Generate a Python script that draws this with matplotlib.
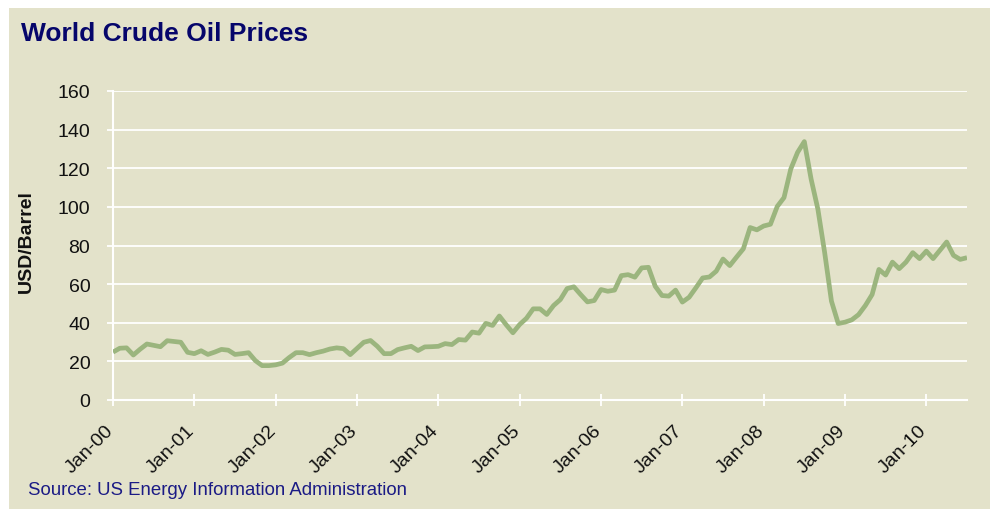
import matplotlib
matplotlib.use("Agg")
import matplotlib.pyplot as plt
from matplotlib.patches import Rectangle
from matplotlib.transforms import ScaledTranslation
import numpy as np

plt.rcParams['font.family'] = ['Liberation Sans', 'DejaVu Sans']

# Monthly world crude oil price (USD/Barrel), Jan-2000 .. Jul-2010
p2000 = [24.8, 26.8, 27.0, 23.3, 26.3, 29.0, 28.3, 27.6, 30.7, 30.3, 29.9, 24.7]
p2001 = [24.0, 25.5, 23.6, 24.8, 26.2, 25.8, 23.6, 24.0, 24.5, 20.4, 17.8, 17.8]
p2002 = [18.2, 19.1, 22.0, 24.5, 24.5, 23.5, 24.5, 25.3, 26.4, 27.0, 26.6, 23.5]
p2003 = [26.7, 29.9, 30.8, 27.8, 24.0, 24.0, 26.1, 27.0, 27.8, 25.6, 27.5, 27.6]
p2004 = [27.8, 29.2, 28.7, 31.3, 31.0, 35.2, 34.6, 39.7, 38.6, 43.5, 39.0, 34.8]
p2005 = [39.1, 42.3, 47.2, 47.2, 44.3, 48.9, 52.0, 57.7, 58.6, 54.6, 50.8, 51.5]
p2006 = [57.2, 56.3, 56.9, 64.4, 64.9, 63.6, 68.4, 68.7, 58.9, 54.1, 53.8, 56.9]
p2007 = [50.7, 53.2, 58.1, 63.2, 63.7, 66.7, 73.0, 69.6, 74.0, 78.3, 89.3, 88.1]
p2008 = [90.1, 91.0, 100.2, 104.8, 119.6, 128.2, 133.8, 114.4, 98.8, 76.3, 51.2, 39.6]
p2009 = [40.3, 41.5, 44.2, 48.9, 54.6, 67.6, 64.7, 71.4, 68.0, 71.4, 76.3, 73.2]
p2010 = [77.1, 73.2, 77.5, 81.8, 74.9, 72.8, 73.7]

prices = p2000 + p2001 + p2002 + p2003 + p2004 + p2005 + p2006 + p2007 + p2008 + p2009 + p2010
months = np.arange(len(prices))

tick_labels = ["Jan-00", "Jan-01", "Jan-02", "Jan-03", "Jan-04", "Jan-05",
               "Jan-06", "Jan-07", "Jan-08", "Jan-09", "Jan-10"]
y_ticks = [0, 20, 40, 60, 80, 100, 120, 140, 160]

title = "World Crude Oil Prices"
ylabel = "USD/Barrel"
source = "Source: US Energy Information Administration"

BG = "#E3E2CA"
LINE = "#9BB57E"
NAVY = "#06066B"
SRC = "#1B1B85"

W, H = 990, 510
fig = plt.figure(figsize=(W / 100, H / 100), dpi=100)
fig.patch.set_facecolor("white")
fig.patches.append(Rectangle((9 / W, 0), (W - 9) / W, (H - 9) / H,
                             transform=fig.transFigure, facecolor=BG,
                             edgecolor="none", zorder=-10))

ax = fig.add_axes([113 / W, 109 / H, 854 / W, 309 / H])
ax.set_facecolor("none")

ax.plot(months, prices, color=LINE, lw=3.4, solid_joinstyle="round",
        solid_capstyle="butt", zorder=3)

ax.set_xlim(0, len(prices) - 1)
ax.set_ylim(0, 160)
ax.set_yticks(y_ticks)
ax.set_xticks(np.arange(0, len(tick_labels) * 12, 12))
ax.set_xticklabels(tick_labels)

ax.yaxis.grid(True, color="white", lw=1.3)
ax.set_axisbelow(True)
for s in ("top", "right"):
    ax.spines[s].set_visible(False)
for s in ("left", "bottom"):
    ax.spines[s].set_color("white")
    ax.spines[s].set_linewidth(1.5)

ax.tick_params(axis="y", color="white", labelcolor="#111111", length=4.3,
               width=1.3, direction="out", pad=12, labelsize=14)
ax.tick_params(axis="x", color="white", labelcolor="#111111", length=9,
               width=1.3, direction="inout", pad=11, labelsize=14)
off = ScaledTranslation(4 / 100, 0, fig.dpi_scale_trans)
for lab in ax.get_xticklabels():
    lab.set_rotation(45)
    lab.set_ha("right")
    lab.set_transform(lab.get_transform() + off)

fig.text(21 / W, (H - 41) / H, title, color=NAVY, fontsize=19,
         fontweight="bold", ha="left", va="baseline")
fig.text(26 / W, (H - 241.5) / H, ylabel, rotation=90, ha="center",
         va="center", fontsize=14, fontweight="bold", color="#111111")
fig.text(28 / W, (H - 495) / H, source, color=SRC, fontsize=13.4,
         ha="left", va="baseline")

fig.savefig("out.png", dpi=100, facecolor=fig.get_facecolor())
